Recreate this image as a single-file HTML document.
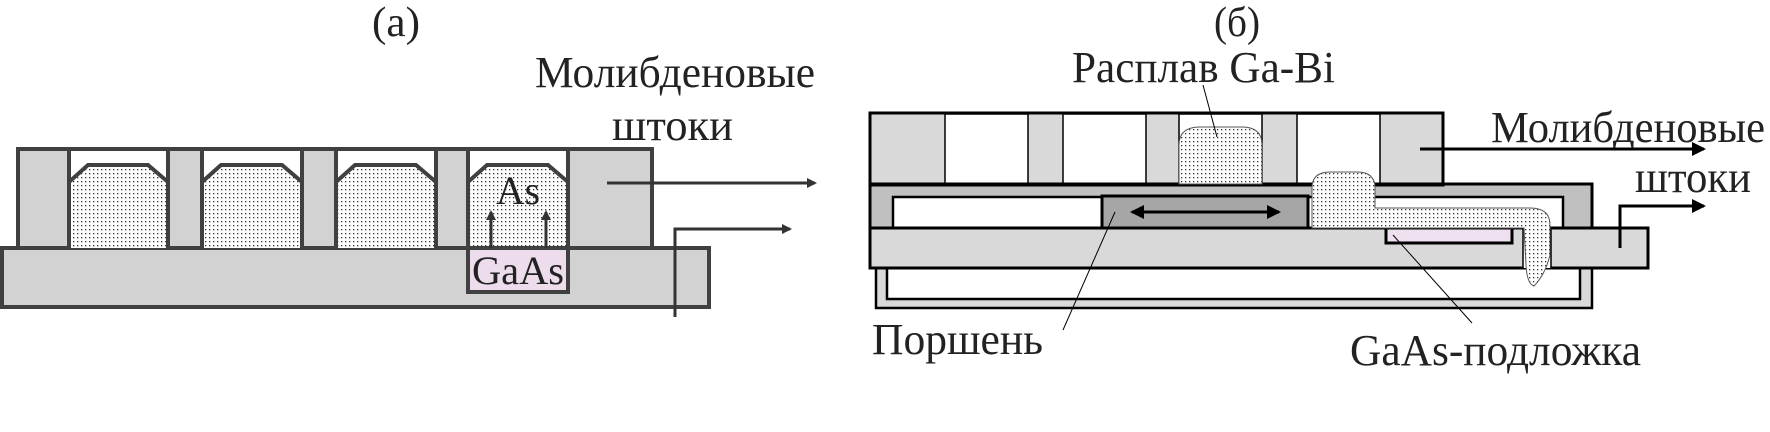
<!DOCTYPE html>
<html><head><meta charset="utf-8"><style>html,body{margin:0;padding:0;background:#fff}svg{display:block}</style></head>
<body>
<svg width="1770" height="432" viewBox="0 0 1770 432" xmlns="http://www.w3.org/2000/svg" font-family="Liberation Serif, serif" fill="#222">
<defs>
<pattern id="dots" width="4" height="4" patternUnits="userSpaceOnUse"><rect width="4" height="4" fill="#fff"/><rect x="1" y="1" width="1.3" height="1.3" fill="#333"/></pattern>
<marker id="ah" markerWidth="10" markerHeight="10" refX="8" refY="5" orient="auto" markerUnits="userSpaceOnUse"><path d="M0,0 L10,5 L0,10 Z" fill="#333"/></marker>
<marker id="ahb" markerWidth="14" markerHeight="14" refX="12" refY="7" orient="auto" markerUnits="userSpaceOnUse"><path d="M0,0 L14,7 L0,14 Z" fill="#000"/></marker>
<marker id="ahbs" markerWidth="14" markerHeight="14" refX="2" refY="7" orient="auto" markerUnits="userSpaceOnUse"><path d="M14,0 L0,7 L14,14 Z" fill="#000"/></marker>
</defs>

<!-- LEFT (a) -->
<text x="372" y="36" font-size="42" textLength="48" lengthAdjust="spacingAndGlyphs">(a)</text>
<text x="535" y="87" font-size="44" textLength="280" lengthAdjust="spacingAndGlyphs">Молибденовые</text>
<text x="612" y="140" font-size="44" textLength="121" lengthAdjust="spacingAndGlyphs">штоки</text>

<rect x="2" y="248" width="707" height="59" fill="#d2d2d2" stroke="#404040" stroke-width="4"/>
<rect x="18" y="149" width="634" height="99" fill="#d2d2d2" stroke="#404040" stroke-width="4"/>
<g stroke="#404040" stroke-width="4">
<rect x="69" y="149" width="99" height="99" fill="#fff"/>
<rect x="202" y="149" width="100" height="99" fill="#fff"/>
<rect x="336" y="149" width="100" height="99" fill="#fff"/>
<rect x="468" y="149" width="100" height="99" fill="#fff"/>
<path d="M69,248 L69,182 L88,165 L148,165 L168,182 L168,248" fill="url(#dots)"/>
<path d="M202,248 L202,182 L221,165 L282,165 L302,182 L302,248" fill="url(#dots)"/>
<path d="M336,248 L336,182 L355,165 L416,165 L436,182 L436,248" fill="url(#dots)"/>
<path d="M468,248 L468,182 L487,165 L548,165 L568,182 L568,248" fill="url(#dots)"/>
<rect x="468" y="248" width="100" height="44" fill="#ecdcec"/>
</g>
<text x="496" y="204" font-size="40" textLength="44" lengthAdjust="spacingAndGlyphs">As</text>
<text x="472" y="284" font-size="40" textLength="92" lengthAdjust="spacingAndGlyphs">GaAs</text>
<g stroke="#333" stroke-width="3" fill="none">
<line x1="491" y1="248" x2="491" y2="212" marker-end="url(#ah)"/>
<line x1="546" y1="248" x2="546" y2="212" marker-end="url(#ah)"/>
<line x1="607" y1="183" x2="815" y2="183" marker-end="url(#ah)"/>
<polyline points="675,317 675,229 790,229" marker-end="url(#ah)"/>
</g>

<!-- RIGHT (б) -->
<text x="1214" y="36" font-size="42" textLength="46" lengthAdjust="spacingAndGlyphs">(б)</text>
<text x="1072" y="82" font-size="44" textLength="263" lengthAdjust="spacingAndGlyphs">Расплав Ga-Bi</text>
<text x="1491" y="142" font-size="44" textLength="274" lengthAdjust="spacingAndGlyphs">Молибденовые</text>
<text x="1635" y="192" font-size="44" textLength="116" lengthAdjust="spacingAndGlyphs">штоки</text>
<text x="872" y="354" font-size="44" textLength="171" lengthAdjust="spacingAndGlyphs">Поршень</text>
<text x="1350" y="365" font-size="44" textLength="291" lengthAdjust="spacingAndGlyphs">GaAs-подложка</text>

<!-- bottom frame -->
<rect x="876" y="268" width="716" height="40" fill="#d9d9d9" stroke="#000" stroke-width="2.5"/>
<rect x="887" y="262" width="693" height="37" fill="#fff" stroke="#000" stroke-width="2.5"/>
<!-- middle frame -->
<rect x="870" y="184" width="722" height="44" fill="#c0c0c0" stroke="#000" stroke-width="3"/>
<rect x="893" y="197" width="670" height="31" fill="#fff" stroke="#000" stroke-width="2.5"/>
<!-- top block -->
<rect x="870" y="113" width="573" height="72" fill="#d9d9d9" stroke="#000" stroke-width="3"/>
<g stroke="#000" stroke-width="1.5" fill="#fff">
<rect x="945" y="114" width="83" height="70"/>
<rect x="1063" y="114" width="83" height="70"/>
<rect x="1179" y="114" width="83" height="70"/>
<rect x="1297" y="114" width="83" height="70"/>
</g>
<line x1="870" y1="113" x2="1443" y2="113" stroke="#000" stroke-width="3"/>
<line x1="870" y1="184" x2="1443" y2="184" stroke="#000" stroke-width="3"/>
<path d="M1179,184 L1179,145 Q1179,127 1200,127 L1242,127 Q1262,127 1262,145 L1262,184 Z" fill="url(#dots)" stroke="#555" stroke-width="1"/>
<!-- piston -->
<rect x="1102" y="196" width="206" height="32" fill="#a6a6a6" stroke="#000" stroke-width="3"/>
<line x1="1132" y1="212" x2="1279" y2="212" stroke="#000" stroke-width="3" marker-start="url(#ahbs)" marker-end="url(#ahb)"/>
<!-- bottom plate -->
<rect x="870" y="228" width="778" height="40" fill="#d9d9d9" stroke="#000" stroke-width="3"/>
<rect x="1523" y="229" width="28" height="39" fill="#fff"/>
<line x1="1523" y1="228" x2="1523" y2="268" stroke="#000" stroke-width="1.5"/>
<line x1="1551" y1="228" x2="1551" y2="268" stroke="#000" stroke-width="1.5"/>
<rect x="1386" y="228" width="126" height="15" fill="#efe0ef" stroke="#000" stroke-width="3"/>
<!-- flowing melt -->
<path d="M1312,228 L1312,188 Q1312,172 1330,172 L1357,172 Q1375,172 1375,188 L1375,208 L1530,208 Q1550,208 1550,225 L1550,255 Q1545,275 1534,286 Q1527,284 1526,265 L1524,228 Z" fill="url(#dots)" stroke="#555" stroke-width="1"/>
<!-- leaders -->
<g stroke="#000" stroke-width="1" fill="none">
<line x1="1203" y1="85" x2="1217" y2="137"/>
<line x1="1115" y1="212" x2="1063" y2="330"/>
<line x1="1393" y1="235" x2="1472" y2="323"/>
</g>
<g stroke="#000" stroke-width="3" fill="none">
<line x1="1420" y1="149" x2="1704" y2="149" marker-end="url(#ahb)"/>
<polyline points="1620,248 1620,206 1704,206" marker-end="url(#ahb)"/>
</g>
</svg>
</body></html>
